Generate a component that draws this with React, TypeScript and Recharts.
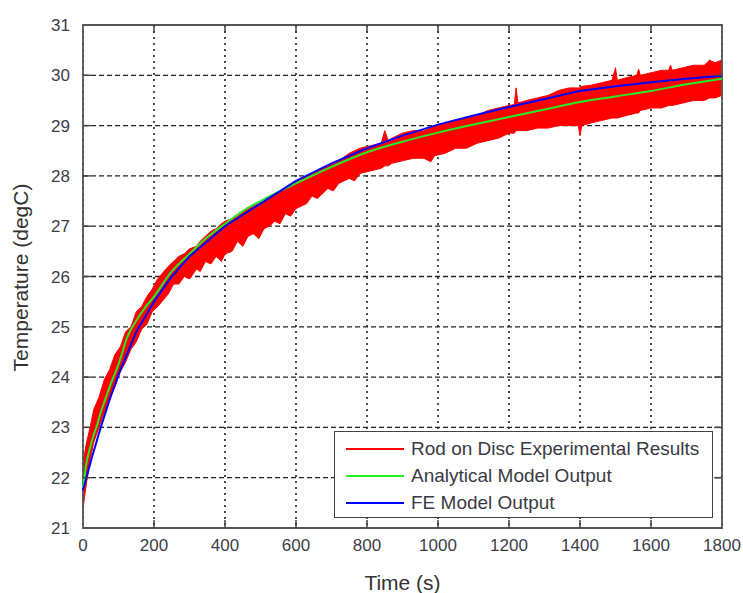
import React from "react";
import {
  ComposedChart,
  Area,
  Line,
  XAxis,
  YAxis,
  CartesianGrid,
  ReferenceArea,
  ReferenceLine,
} from "recharts";

// time axis ticks (s) and temperature ticks (degC)
const xTicks = [0, 200, 400, 600, 800, 1000, 1200, 1400, 1600, 1800];
const yTicks = [21, 22, 23, 24, 25, 26, 27, 28, 29, 30, 31];

// Rod on Disc experimental results - noisy band read as low/high envelope
const expTime = [
  0, 10, 20, 30, 45, 60, 75, 90, 105, 120,
  135, 150, 165, 180, 195, 210, 240, 255, 270, 285,
  300, 320, 330, 345, 360, 375, 390, 400, 420, 435,
  450, 465, 480, 495, 510, 525, 540, 555, 570, 585,
  600, 630, 645, 660, 690, 705, 720, 750, 765, 780,
  810, 840, 850, 860, 870, 900, 930, 960, 980, 990,
  1020, 1050, 1080, 1110, 1140, 1170, 1200, 1215, 1220, 1225,
  1250, 1280, 1310, 1340, 1370, 1395, 1400, 1405, 1430, 1460,
  1490, 1500, 1505, 1530, 1560, 1565, 1570, 1600, 1630, 1650,
  1655, 1660, 1690, 1720, 1750, 1765, 1780, 1800,
];
const expLow = [
  21.4, 21.9, 22.35, 22.7, 23.0, 23.3, 23.6, 23.8, 24.1, 24.3,
  24.55, 24.7, 24.95, 25.05, 25.3, 25.4, 25.65, 25.85, 25.85, 26.0,
  25.95, 26.15, 26.1, 26.3, 26.25, 26.4, 26.3, 26.45, 26.5, 26.7,
  26.6, 26.8, 26.85, 26.75, 26.95, 27.0, 27.1, 27.05, 27.25, 27.2,
  27.35, 27.45, 27.6, 27.55, 27.75, 27.7, 27.85, 27.95, 27.9, 28.05,
  28.1, 28.15, 28.2, 28.2, 28.25, 28.3, 28.35, 28.35, 28.28, 28.4,
  28.45, 28.55, 28.55, 28.65, 28.7, 28.75, 28.85, 28.85, 28.9, 28.9,
  28.9, 28.95, 28.95, 29.0, 29.0, 29.0, 28.8, 29.0, 29.05, 29.1,
  29.15, 29.15, 29.15, 29.2, 29.25, 29.25, 29.3, 29.35, 29.35, 29.4,
  29.4, 29.4, 29.45, 29.5, 29.5, 29.55, 29.55, 29.6,
];
const expHigh = [
  22.3, 22.7, 23.0, 23.35, 23.6, 23.95, 24.15, 24.45, 24.6, 24.9,
  25.0, 25.3, 25.4, 25.6, 25.75, 25.95, 26.2, 26.3, 26.4, 26.45,
  26.55, 26.6, 26.7, 26.8, 26.9, 26.95, 27.05, 27.1, 27.15, 27.2,
  27.3, 27.35, 27.4, 27.45, 27.5, 27.6, 27.6, 27.7, 27.75, 27.8,
  27.9, 28.0, 28.05, 28.1, 28.2, 28.25, 28.3, 28.45, 28.5, 28.55,
  28.6, 28.65, 28.9, 28.7, 28.75, 28.85, 28.9, 28.9, 28.95, 29.0,
  29.05, 29.1, 29.15, 29.2, 29.3, 29.35, 29.4, 29.42, 29.75, 29.45,
  29.5, 29.55, 29.6, 29.7, 29.75, 29.75, 29.75, 29.78, 29.8, 29.85,
  29.9, 30.15, 29.9, 29.95, 30.0, 30.12, 30.0, 30.05, 30.1, 30.1,
  30.2, 30.1, 30.15, 30.2, 30.2, 30.3, 30.25, 30.3,
];

// Analytical model output
const anaTime = [
  0, 10, 20, 30, 40, 50, 60, 80, 100, 125, 150, 175, 200, 250, 300, 350, 400,
  450, 500, 600, 700, 800, 900, 1000, 1100, 1200, 1300, 1400, 1500, 1600,
  1700, 1800,
];
const anaTemp = [
  21.8, 22.3, 22.6, 22.85, 23.05, 23.3, 23.5, 23.9, 24.25, 24.8, 25.12, 25.38,
  25.6, 26.1, 26.45, 26.78, 27.05, 27.3, 27.5, 27.85, 28.18, 28.47, 28.68,
  28.86, 29.02, 29.17, 29.32, 29.47, 29.58, 29.69, 29.82, 29.93,
];

// FE model output
const feTime = [
  0, 25, 50, 75, 100, 150, 200, 250, 300, 400, 500, 600, 700, 800, 900, 1000,
  1100, 1200, 1300, 1400, 1500, 1600, 1700, 1800,
];
const feTemp = [
  21.75, 22.4, 23.0, 23.55, 24.05, 24.9, 25.5, 26.0, 26.4, 27.0, 27.45, 27.9,
  28.25, 28.55, 28.8, 29.02, 29.2, 29.37, 29.53, 29.69, 29.78, 29.86, 29.93,
  29.99,
];

const legendItems = [
  { name: "Rod on Disc Experimental Results", color: "#ff0000" },
  { name: "Analytical Model Output", color: "#22ee22" },
  { name: "FE Model Output", color: "#0000ff" },
];

const expData = expTime.map((t, i) => ({ t, band: [expLow[i], expHigh[i]] }));
const anaData = anaTime.map((t, i) => ({ t, v: anaTemp[i] }));
const feData = feTime.map((t, i) => ({ t, v: feTemp[i] }));

const font = "'Liberation Sans', Arial, sans-serif";
const tickStyle = { fontSize: 17, fill: "#3d3d48", fontFamily: font };
const labelStyle = { fontSize: 21, fill: "#333", fontFamily: font };

const App = () => {
  return (
    <div style={{ position: "absolute", left: 0, top: 0, width: 743, height: 593, background: "#fff" }}>
      <ComposedChart
        width={743}
        height={593}
        margin={{ top: 25, right: 21, left: 0, bottom: 0 }}
      >
        <CartesianGrid vertical={false} stroke="#222" strokeWidth={1.3} strokeDasharray="5 3" />
        <CartesianGrid horizontal={false} stroke="#222" strokeWidth={1.6} strokeDasharray="2 4" />
        <XAxis
          type="number"
          dataKey="t"
          domain={[0, 1800]}
          ticks={xTicks}
          height={65}
          axisLine={false}
          tickLine={false}
          tickSize={0}
          tickMargin={11}
          tick={tickStyle}
          allowDuplicatedCategory={false}
          label={{ value: "Time (s)", position: "insideBottom", offset: 3, style: labelStyle }}
        />
        <YAxis
          type="number"
          domain={[21, 31]}
          ticks={yTicks}
          width={83}
          axisLine={false}
          tickLine={false}
          tickSize={0}
          tickMargin={13}
          tick={tickStyle}
          label={{
            value: "Temperature (degC)",
            angle: -90,
            position: "center",
            dx: -21,
            dy: 1,
            style: labelStyle,
          }}
        />
        <Area
          data={expData}
          dataKey="band"
          type="linear"
          stroke="#ff0000"
          strokeWidth={1}
          fill="#ff0000"
          fillOpacity={1}
          isAnimationActive={false}
        />
        <Line
          data={anaData}
          dataKey="v"
          type="monotone"
          stroke="#22ee22"
          strokeWidth={2}
          dot={false}
          isAnimationActive={false}
        />
        <Line
          data={feData}
          dataKey="v"
          type="linear"
          stroke="#0000ff"
          strokeWidth={2}
          dot={false}
          isAnimationActive={false}
        />
        {xTicks.slice(1, -1).map((x) => (
          <ReferenceLine key={`xb${x}`} segment={[{ x, y: 21 }, { x, y: 21.16 }]} stroke="#444" strokeWidth={1.5} />
        ))}
        {xTicks.slice(1, -1).map((x) => (
          <ReferenceLine key={`xt${x}`} segment={[{ x, y: 31 }, { x, y: 30.84 }]} stroke="#444" strokeWidth={1.5} />
        ))}
        {yTicks.slice(1, -1).map((y) => (
          <ReferenceLine key={`yl${y}`} segment={[{ x: 0, y }, { x: 22, y }]} stroke="#444" strokeWidth={1.5} />
        ))}
        {yTicks.slice(1, -1).map((y) => (
          <ReferenceLine key={`yr${y}`} segment={[{ x: 1800, y }, { x: 1778, y }]} stroke="#444" strokeWidth={1.5} />
        ))}
        <ReferenceArea x1={0} x2={1800} y1={21} y2={31} fill="none" stroke="#555" strokeWidth={1.8} />
      </ComposedChart>
      <div
        style={{
          position: "absolute",
          left: 334,
          top: 431,
          width: 379,
          height: 87,
          border: "1.5px solid #444",
          background: "#fff",
          fontFamily: font,
          fontSize: 19,
          color: "#3a3a44",
          paddingTop: 3,
          boxSizing: "border-box",
        }}
      >
        {legendItems.map((it) => (
          <div key={it.name} style={{ display: "flex", alignItems: "center", height: 27 }}>
            <div style={{ marginLeft: 11, width: 58, height: 2, background: it.color }} />
            <span style={{ marginLeft: 7 }}>{it.name}</span>
          </div>
        ))}
      </div>
    </div>
  );
};

export default App;
